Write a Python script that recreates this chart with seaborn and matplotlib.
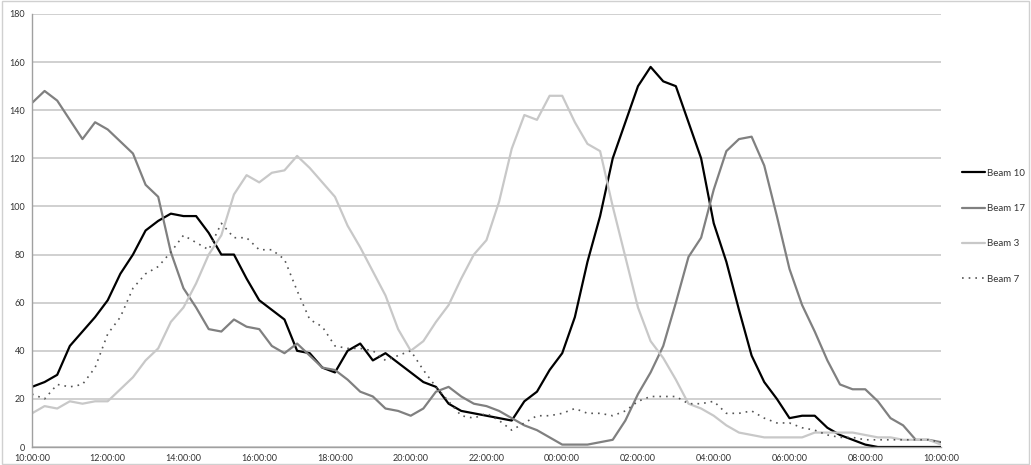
import numpy as np
import pandas as pd
import matplotlib
matplotlib.use("Agg")
import matplotlib.pyplot as plt
import matplotlib.dates as mdates
from matplotlib.patches import Rectangle
import seaborn as sns

# readings every 20 minutes, 10:00 -> 10:00 next day
times = pd.date_range("2000-01-01 10:00", "2000-01-02 10:00", freq="20min")

beam10 = [25, 27, 30, 42, 48, 54, 61, 72, 80, 90, 94, 97,
          96, 96, 89, 80, 80, 70, 61, 57, 53, 40, 39, 33,
          31, 40, 43, 36, 39, 35, 31, 27, 25, 18, 15, 14,
          13, 12, 11, 19, 23, 32, 39, 54, 77, 96, 120, 135,
          150, 158, 152, 150, 135, 120, 93, 77, 57, 38, 27, 20,
          12, 13, 13, 8, 5, 3, 1, 0, 0, 0, 0, 0, 0]

beam17 = [143, 148, 144, 136, 128, 135, 132, 127, 122, 109, 104, 81,
          66, 58, 49, 48, 53, 50, 49, 42, 39, 43, 38, 33,
          32, 28, 23, 21, 16, 15, 13, 16, 23, 25, 21, 18,
          17, 15, 12, 9, 7, 4, 1, 1, 1, 2, 3, 11,
          22, 31, 42, 60, 79, 87, 107, 123, 128, 129, 117, 96,
          74, 59, 48, 36, 26, 24, 24, 19, 12, 9, 3, 3, 2]

beam3 = [14, 17, 16, 19, 18, 19, 19, 24, 29, 36, 41, 52,
         58, 68, 80, 88, 105, 113, 110, 114, 115, 121, 116, 110,
         104, 92, 83, 73, 63, 49, 40, 44, 52, 59, 70, 80,
         86, 102, 124, 138, 136, 146, 146, 135, 126, 123, 100, 79,
         58, 44, 37, 28, 18, 16, 13, 9, 6, 5, 4, 4,
         4, 4, 6, 6, 6, 6, 5, 4, 4, 3, 3, 3, 1]

beam7 = [22, 20, 26, 25, 26, 33, 47, 54, 66, 72, 75, 81,
         88, 85, 82, 93, 87, 87, 82, 82, 78, 65, 53, 50,
         42, 41, 41, 40, 36, 38, 40, 32, 25, 19, 13, 12,
         14, 11, 7, 10, 13, 13, 14, 16, 14, 14, 13, 15,
         19, 21, 21, 21, 18, 18, 19, 14, 14, 15, 12, 10,
         10, 8, 7, 5, 4, 4, 3, 3, 3, 3, 3, 3, 2]

series = {"Beam 10": beam10, "Beam 17": beam17, "Beam 3": beam3, "Beam 7": beam7}
styles = {
    "Beam 10": dict(color="#000000", lw=1.6, ls="-"),
    "Beam 17": dict(color="#808080", lw=1.6, ls="-"),
    "Beam 3": dict(color="#c8c8c8", lw=1.6, ls="-"),
    "Beam 7": dict(color="#555555", lw=1.2, ls=(0, (1, 3))),
}

df = pd.DataFrame(series, index=times)

sns.set_style("white")
plt.rcParams["font.family"] = ["Lato", "DejaVu Sans"]

fig = plt.figure(figsize=(10.31, 4.65), dpi=100)
ax = fig.add_axes([0.031, 0.0387, 0.8817, 0.9312])

for name in series:
    st = styles[name]
    sns.lineplot(x=df.index, y=df[name], ax=ax, label=name, color=st["color"],
                 linewidth=st["lw"], linestyle=st["ls"])

ax.set_xlim(times[0], times[-1])
ax.set_ylim(0, 180)
ax.set_yticks(range(0, 181, 20))
ax.xaxis.set_major_locator(mdates.HourLocator(byhour=range(0, 24, 2)))
ax.xaxis.set_major_formatter(mdates.DateFormatter("%H:%M:%S"))
ax.set_xlabel("")
ax.set_ylabel("")

ax.grid(axis="y", color="#c8c8c8", linewidth=1.2)
ax.set_axisbelow(True)
for side in ["top", "right"]:
    ax.spines[side].set_visible(False)
for side in ["left", "bottom"]:
    ax.spines[side].set_color("#a0a0a0")
    ax.spines[side].set_linewidth(1.0)
ax.tick_params(axis="both", labelsize=6.5, labelcolor="#333333", colors="#a0a0a0",
               length=3, width=0.8, pad=2)
for lab in ax.get_xticklabels() + ax.get_yticklabels():
    lab.set_color("#333333")

leg = ax.legend(loc="center left", bbox_to_anchor=(1.013, 0.51), frameon=False,
                fontsize=7, labelspacing=2.7, handlelength=2.4, handletextpad=0.2)
for t in leg.get_texts():
    t.set_color("#333333")

fig.patches.append(Rectangle((0.002, 0.003), 0.996, 0.994, transform=fig.transFigure,
                             fill=False, edgecolor="#d0d0d0", linewidth=1.0))

fig.savefig("out.png", dpi=100)
